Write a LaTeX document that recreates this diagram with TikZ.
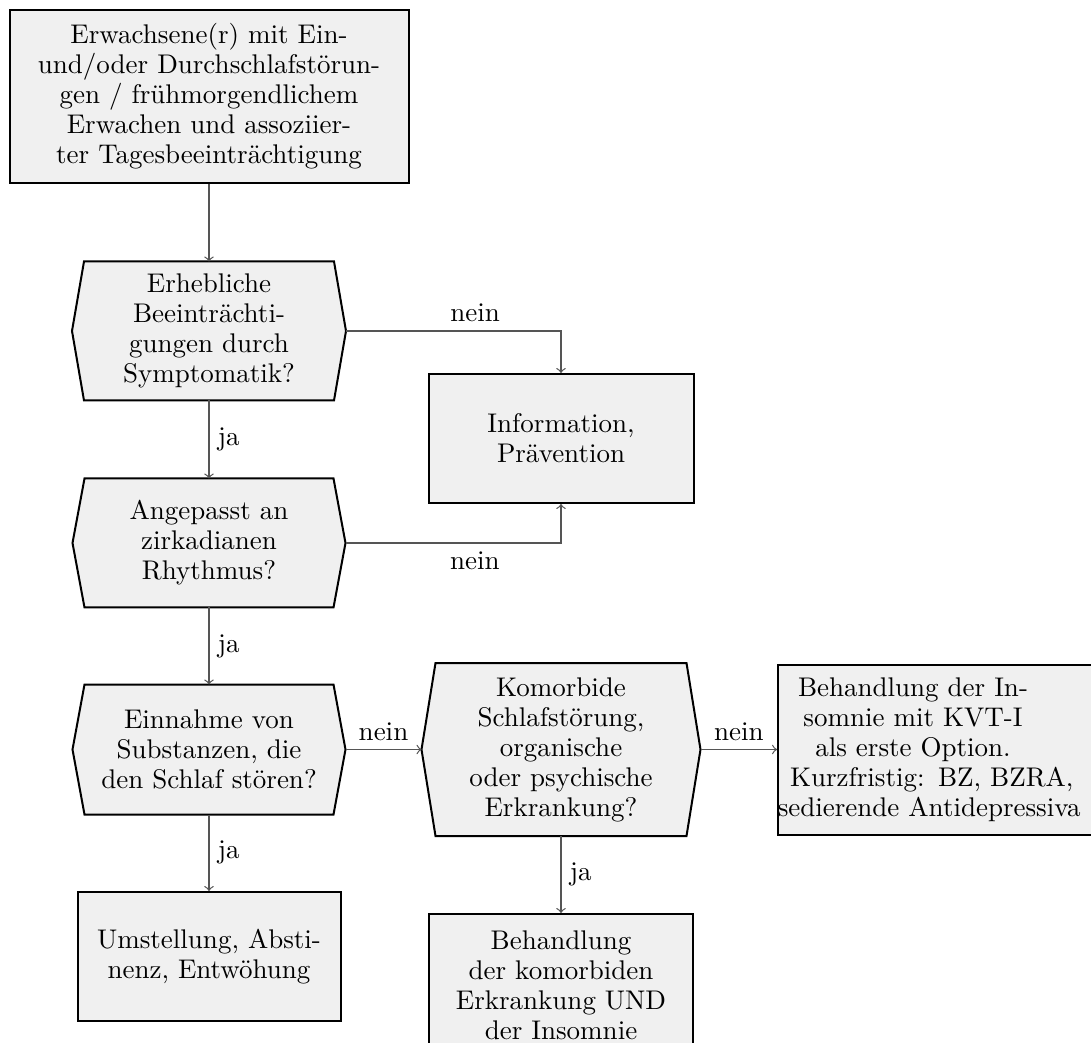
\documentclass[tikz,border=0pt]{standalone}
\usepackage{fontspec}
\usetikzlibrary{backgrounds}
\definecolor{boxfill}{RGB}{240,240,240}
\definecolor{linegray}{RGB}{85,85,85}
\def\pxu{0.4pt}
\begin{document}
\begin{tikzpicture}[x=0.4pt,y=-0.4pt,
  font=\fontsize{10.8}{12}\selectfont,
  box/.style={draw=black, line width=0.8pt, fill=boxfill, align=center, inner sep=0pt},
  hexn/.style={align=center, inner sep=0pt},
  hexdraw/.style={draw=black, line width=0.8pt, fill=boxfill, line join=miter},
  conn/.style={draw=linegray, line width=0.5pt, ->},
  lbl/.style={text=black}]
\useasboundingbox (0,0) rectangle (1091,1043);
\clip (0,0) rectangle (1091,1043);

\node[box, minimum width=399*\pxu, minimum height=173*\pxu] (b1) at (209,96.5)
  {Erwachsene(r) mit Ein-\\und/oder Durchschlafstörun-\\gen / frühmorgendlichem\\Erwachen und assoziier-\\ter Tagesbeeinträchtigung};
\node[hexn, minimum width=273*\pxu, minimum height=138*\pxu] (h1) at (209,331)
  {Erhebliche\\Beeinträchti-\\gungen durch\\Symptomatik?};
\node[hexn, minimum width=272*\pxu, minimum height=128*\pxu] (h2) at (209,543)
  {Angepasst an\\zirkadianen\\Rhythmus?};
\node[hexn, minimum width=272*\pxu, minimum height=129*\pxu] (h3) at (209,749.5)
  {Einnahme von\\Substanzen, die\\den Schlaf stören?};
\node[hexn, minimum width=278*\pxu, minimum height=172*\pxu] (h4) at (561,749.5)
  {Komorbide\\Schlafstörung,\\organische\\oder psychische\\Erkrankung?};
\node[box, minimum width=265*\pxu, minimum height=129*\pxu] (info) at (561,438.5)
  {Information,\\Prävention};
\node[box, minimum width=263*\pxu, minimum height=129*\pxu] (umst) at (209,956.5)
  {Umstellung, Absti-\\nenz, Entwöhung};
\node[box, minimum width=264*\pxu, minimum height=143*\pxu, anchor=north] (beh2) at (561,913)
  {Behandlung\\der komorbiden\\Erkrankung UND\\der Insomnie};
\node[box, minimum width=340*\pxu, minimum height=170*\pxu, anchor=west] (beh1) at (777,749.5) {};
\node[hexn, text width=108.8pt] (beh1t) at (913,749.5)
  {Behandlung der In-\\somnie mit KVT-I\\als erste Option.\\\makebox[108.8pt][l]{\hspace*{5.2pt}Kurzfristig: BZ, BZRA,}\\\makebox[108.8pt][l]{\hspace*{0.3pt}sedierende Antidepressiva}};

\begin{scope}[on background layer]
\foreach \n/\d in {h1/12,h2/12,h3/12,h4/14}
  \draw[hexdraw] ([xshift=\d*\pxu]\n.north west) -- ([xshift=-\d*\pxu]\n.north east)
    -- (\n.east) -- ([xshift=-\d*\pxu]\n.south east) -- ([xshift=\d*\pxu]\n.south west)
    -- (\n.west) -- cycle;
\end{scope}

\draw[conn] (b1) -- (h1);
\draw[conn] (h1) -- node[lbl,right]{ja} (h2);
\draw[conn] (h2) -- node[lbl,right]{ja} (h3);
\draw[conn] (h3) -- node[lbl,right]{ja} (umst);
\draw[conn] (h4) -- node[lbl,right]{ja} (beh2);
\draw[conn] (h1.east) -| node[lbl,above,pos=0.3]{nein} (info.north);
\draw[conn] (h2.east) -| node[lbl,below,pos=0.3]{nein} (info.south);
\draw[conn] (h3.east) -- node[lbl,above]{nein} (h4.west);
\draw[conn] (h4.east) -- node[lbl,above]{nein} (beh1.west);
\end{tikzpicture}
\end{document}
